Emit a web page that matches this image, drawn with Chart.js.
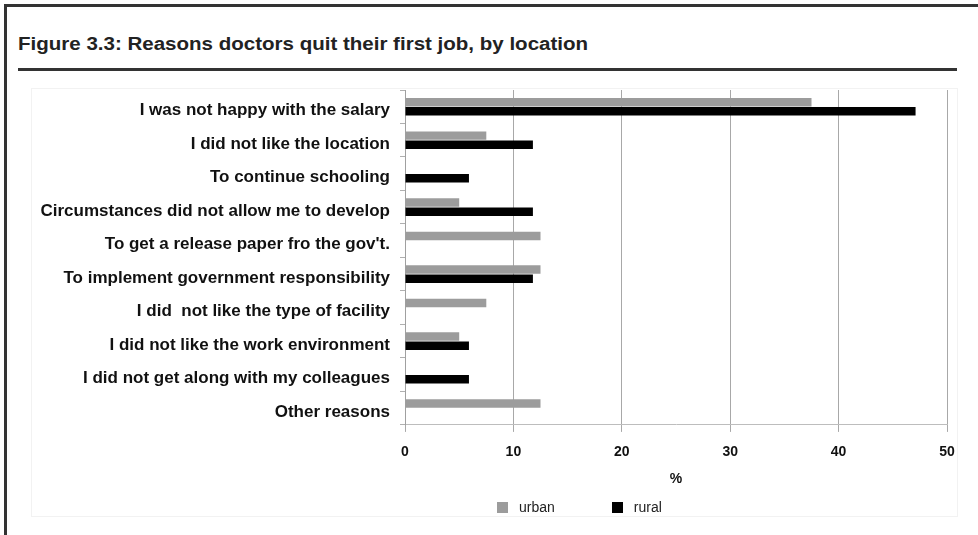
<!DOCTYPE html>
<html>
<head>
<meta charset="utf-8">
<title>Figure 3.3</title>
<script src="https://cdn.jsdelivr.net/npm/chart.js@4.4.1/dist/chart.umd.min.js"></script>
<style>
  body { margin: 0; width: 978px; height: 535px; overflow: hidden; background: #fff; font-family: "Liberation Sans", Arial, sans-serif; position: relative; }
  #cadre { position: absolute; left: 4px; top: 4px; width: 1000px; height: 560px; border: 3px solid #333; box-sizing: border-box; }
  #titre { position: absolute; left: 18px; top: 35px; font-size: 18px; line-height: 18px; font-weight: bold; color: #222; white-space: nowrap; transform: scaleX(1.14); transform-origin: left top; }
  #trait { position: absolute; left: 18px; top: 68px; width: 939px; height: 3px; background: #333; }
  #fond { position: absolute; left: 31px; top: 88px; width: 927px; height: 429px; border: 1px solid #f2f2f2; box-sizing: border-box; }
  #zone { position: absolute; left: 0; top: 0; }
  #legende { position: absolute; left: 497px; top: 499px; display: flex; font-size: 14px; color: #222; }
  #legende .item { display: flex; align-items: center; margin-right: 57px; }
  #legende .carre { width: 11px; height: 11px; margin-right: 11px; }
</style>
</head>
<body>
<div id="cadre"></div>
<div id="titre">Figure 3.3: Reasons doctors quit their first job, by location</div>
<div id="trait"></div>
<div id="fond"></div>
<canvas id="zone" width="978" height="535"></canvas>
<div id="legende"></div>
<script>
const reasons = [
  "I was not happy with the salary",
  "I did not like the location",
  "To continue schooling",
  "Circumstances did not allow me to develop",
  "To get a release paper fro the gov't.",
  "To implement government responsibility",
  "I did  not like the type of facility",
  "I did not like the work environment",
  "I did not get along with my colleagues",
  "Other reasons"
];
const urban = [37.5, 7.5, 0, 5, 12.5, 12.5, 7.5, 5, 0, 12.5];
const rural = [47.1, 11.8, 5.9, 11.8, 0, 11.8, 0, 5.9, 5.9, 0];
const xTicks = [0, 10, 20, 30, 40, 50];

const gris = "#9c9c9c";
const noir = "#000000";
const police = "'Liberation Sans', Arial, sans-serif";

var ctx = document.getElementById("zone");
var chart = new Chart(ctx, {
  type: "bar",
  data: {
    labels: reasons,
    datasets: [
      { label: "urban", data: urban, backgroundColor: gris, categoryPercentage: 0.55, barPercentage: 0.92 },
      { label: "rural", data: rural, backgroundColor: noir, categoryPercentage: 0.55, barPercentage: 0.92 }
    ]
  },
  options: {
    indexAxis: "y",
    responsive: false,
    animation: false,
    layout: { padding: { top: 90, right: 31, left: 0, bottom: 43.5 } },
    plugins: { legend: { display: false }, tooltip: { enabled: false } },
    scales: {
      x: {
        min: xTicks[0],
        max: xTicks[xTicks.length - 1],
        afterBuildTicks: (scale) => { scale.ticks = xTicks.map(v => ({ value: v })); },
        grid: { color: "#a8a8a8", tickLength: 7, tickColor: "#a8a8a8" },
        border: { color: "#bdbdbd" },
        ticks: { color: "#111", padding: 12, font: { family: police, size: 14, weight: "bold" } },
        title: { display: true, text: "%", color: "#111", padding: { top: -2, bottom: 4 }, font: { family: police, size: 14, weight: "bold" } }
      },
      y: {
        afterFit: (scale) => { scale.width = 405; },
        grid: { drawOnChartArea: false, tickLength: 5, tickColor: "#b0b0b0" },
        border: { color: "#a0a0a0" },
        ticks: { color: "#111", padding: 10, labelOffset: 4, autoSkip: false, font: { family: police, size: 17, weight: "bold" } }
      }
    }
  }
});

// legende construite depuis les datasets
const legende = document.getElementById("legende");
chart.data.datasets.forEach(ds => {
  let item = document.createElement("div");
  item.className = "item";
  let carre = document.createElement("span");
  carre.className = "carre";
  carre.style.background = ds.backgroundColor;
  item.appendChild(carre);
  item.appendChild(document.createTextNode(ds.label));
  legende.appendChild(item);
});
</script>
</body>
</html>
